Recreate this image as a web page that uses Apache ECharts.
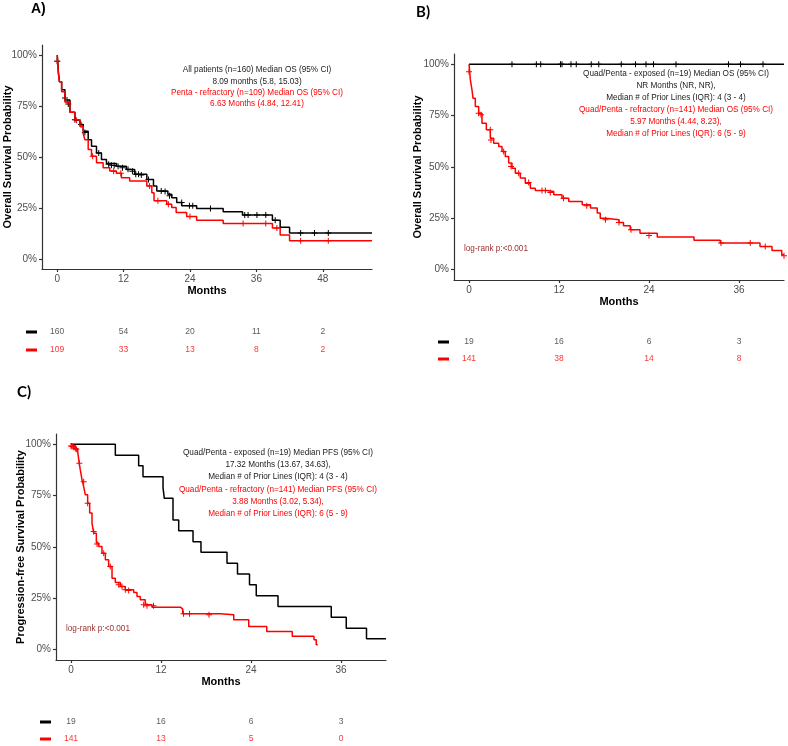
<!DOCTYPE html>
<html>
<head>
<meta charset="utf-8">
<script src="https://cdn.jsdelivr.net/npm/echarts@6/dist/echarts.min.js"></script>
<style>html,body{margin:0;padding:0;background:#fff;}#c{width:788px;height:746px;}</style>
</head>
<body>
<div id="c"></div>
<script>
// ---------- DATA ----------
// Panel A: overall survival, all patients vs penta-refractory
const aAllSteps = [[0,1],[0.1,0.97],[0.2,0.92],[0.4,0.87],[0.8,0.83],[1.4,0.78],[2.3,0.72],[3.2,0.683],[4.1,0.66],[4.7,0.626],[5.6,0.585],[6.2,0.553],[7.1,0.52],[8.0,0.488],[8.9,0.468],[10.7,0.455],[12.5,0.439],[14.0,0.415],[16.2,0.39],[17.4,0.358],[18.0,0.333],[20.0,0.317],[20.7,0.30],[21.6,0.277],[22.5,0.26],[25.2,0.247],[30.0,0.231],[33.5,0.215],[38.9,0.19],[40.3,0.155],[42.0,0.127],[56.9,0.127]];
const aPentaSteps = [[0,1],[0.1,0.96],[0.2,0.91],[0.4,0.87],[0.8,0.82],[1.4,0.77],[2.3,0.72],[3.2,0.683],[4.1,0.65],[4.7,0.615],[5.0,0.585],[5.6,0.537],[6.2,0.504],[7.1,0.472],[8.3,0.447],[9.5,0.431],[10.7,0.42],[11.6,0.398],[13.1,0.382],[16.2,0.358],[17.1,0.325],[17.5,0.285],[19.8,0.268],[20.7,0.252],[21.5,0.228],[23.4,0.208],[25.2,0.19],[30.0,0.174],[38.9,0.151],[40.3,0.117],[42.0,0.089],[56.9,0.089]];
const aAllCensor = [[0,0.97],[1.4,0.79],[2.0,0.76],[3.2,0.683],[4.3,0.66],[5.0,0.62],[7.5,0.52],[9.3,0.465],[9.8,0.46],[10.3,0.458],[11.0,0.455],[11.8,0.447],[12.8,0.44],[13.6,0.43],[14.2,0.415],[14.7,0.415],[15.2,0.412],[16.5,0.39],[18.8,0.333],[19.5,0.33],[20.3,0.31],[22.5,0.277],[23.9,0.26],[24.5,0.26],[27.7,0.247],[33.9,0.215],[34.5,0.215],[36.1,0.215],[37.7,0.215],[39.4,0.19],[44.0,0.127],[46.5,0.127],[49.0,0.127]];
const aPentaCensor = [[0,0.97],[1.9,0.77],[3.5,0.68],[6.4,0.504],[10.2,0.43],[11.5,0.42],[16.7,0.358],[18.2,0.285],[20.1,0.268],[24.0,0.208],[33.6,0.174],[37.7,0.174],[39.7,0.151],[44.0,0.089],[49.0,0.089]];
const aRiskTimes = [0,12,24,36,48];
const aRiskAll = [160,54,20,11,2];
const aRiskPenta = [109,33,13,8,2];

// Panel B: overall survival, quad/penta exposed vs refractory
const bExpSteps = [[0,1],[42,1]];
const bExpCensor = [[5.73,1],[8.98,1],[9.56,1],[12.2,1],[12.4,1],[13.6,1],[14.3,1],[16.3,1],[17.3,1],[20.3,1],[22.2,1],[23.6,1],[24.6,1],[27.6,1],[34.6,1],[36.2,1],[39.2,1]];
const bRefSteps = [[0,1],[0.09,0.965],[0.18,0.924],[0.4,0.875],[0.53,0.835],[0.84,0.794],[1.29,0.762],[1.73,0.713],[2.31,0.681],[2.84,0.64],[3.29,0.616],[3.96,0.60],[4.4,0.575],[4.84,0.551],[5.29,0.519],[5.73,0.494],[6.18,0.47],[6.84,0.446],[7.51,0.421],[8.18,0.397],[8.84,0.386],[10.4,0.381],[11.3,0.365],[12.4,0.348],[13.3,0.332],[15.1,0.316],[16.2,0.30],[17.1,0.276],[17.5,0.251],[18.2,0.243],[20.0,0.23],[20.6,0.214],[21.5,0.194],[22.8,0.178],[25.1,0.159],[30.0,0.143],[33.5,0.13],[38.8,0.113],[40.4,0.094],[41.7,0.073],[42,0.073]];
const bRefCensor = [[0,0.964],[1.29,0.762],[1.6,0.754],[2.84,0.681],[2.93,0.632],[4.62,0.575],[5.6,0.502],[6.62,0.47],[7.96,0.425],[9.73,0.386],[10.18,0.386],[10.84,0.376],[12.6,0.348],[15.7,0.311],[18.2,0.243],[20.0,0.23],[21.6,0.194],[24.0,0.167],[33.6,0.13],[37.5,0.13],[39.5,0.113],[42,0.068]];
const bRiskTimes = [0,12,24,36];
const bRiskExp = [19,16,6,3];
const bRiskRef = [141,38,14,8];

// Panel C: progression-free survival
const cExpSteps = [[0,1],[5.91,0.947],[9.02,0.895],[9.6,0.842],[12.27,0.789],[12.44,0.737],[13.6,0.632],[14.36,0.579],[16.27,0.526],[17.33,0.474],[20.8,0.421],[22.2,0.368],[23.8,0.316],[24.7,0.263],[27.6,0.211],[34.7,0.158],[36.7,0.105],[39.4,0.053],[42,0.053]];
const cRefSteps = [[0,1],[0.13,0.992],[0.58,0.98],[0.89,0.964],[1.07,0.916],[1.24,0.875],[1.47,0.827],[1.69,0.794],[1.91,0.754],[2.22,0.713],[2.49,0.665],[2.8,0.616],[3.02,0.567],[3.38,0.519],[3.69,0.502],[4.13,0.47],[4.58,0.438],[5.02,0.405],[5.47,0.348],[5.91,0.327],[6.58,0.308],[7.24,0.292],[8.36,0.279],[8.8,0.259],[9.24,0.243],[9.9,0.219],[10.8,0.207],[14.6,0.198],[14.9,0.175],[19.9,0.17],[21.7,0.146],[23.7,0.113],[26.1,0.089],[29.5,0.065],[32.4,0.049],[32.7,0.024],[32.9,0.024]];
const cRefCensor = [[0,0.992],[0.13,0.989],[0.36,0.985],[0.58,0.98],[0.71,0.976],[1.11,0.908],[1.69,0.818],[2.22,0.713],[3.02,0.575],[3.47,0.515],[4.36,0.47],[5.24,0.405],[6.36,0.316],[6.8,0.308],[7.24,0.292],[7.69,0.288],[9.69,0.219],[10.13,0.214],[11.0,0.214],[15.0,0.175],[15.8,0.175],[18.4,0.17]];
const cRiskTimes = [0,12,24,36];
const cRiskExp = [19,16,6,3];
const cRiskRef = [141,13,5,0];

const yTicks = [0,0.25,0.5,0.75,1];

// ---------- STYLE ----------
const FF = 'Liberation Sans, Arial, sans-serif';
const BLACK = '#000000', RED = '#ff0000', AXIS = '#333333', TICKTXT = '#4d4d4d', LOGRANK = '#9b3030';
const PLUS = 'path://M2.5,0H3.5V2.5H6V3.5H3.5V6H2.5V3.5H0V2.5H2.5Z';
const NOTE = '8.2px ';

const panels = [
  {grid:{left:42, top:45, width:330, height:224}, xmin:-2.75, xmax:56.9, xt:aRiskTimes, yname:'Overall Survival Probability', ynameGap:29,
   risk:{top:323, height:36}, riskTimes:aRiskTimes, riskK:aRiskAll, riskR:aRiskPenta,
   lines:[[aAllSteps,BLACK],[aPentaSteps,RED]], cens:[[aAllCensor,BLACK],[aPentaCensor,RED]]},
  {grid:{left:454, top:54, width:330, height:226}, xmin:-2.0, xmax:42.0, xt:bRiskTimes, yname:'Overall Survival Probability', ynameGap:31,
   risk:{top:333.5, height:34}, riskTimes:bRiskTimes, riskK:bRiskExp, riskR:bRiskRef,
   lines:[[bExpSteps,BLACK],[bRefSteps,RED]], cens:[[bExpCensor,BLACK],[bRefCensor,RED]]},
  {grid:{left:56, top:434, width:330, height:226}, xmin:-2.0, xmax:42.0, xt:cRiskTimes, yname:'Progression-free Survival Probability', ynameGap:30,
   risk:{top:713.5, height:34}, riskTimes:cRiskTimes, riskK:cRiskExp, riskR:cRiskRef,
   lines:[[cExpSteps,BLACK],[cRefSteps,RED]], cens:[[cRefCensor,RED]]}
];

const grids = [], xAxes = [], yAxes = [], series = [];
panels.forEach((p, i) => {
  const gi = grids.length;
  grids.push(Object.assign({outerBoundsMode:'none', containLabel:false}, p.grid));
  xAxes.push({type:'value', gridIndex:gi, min:p.xmin, max:p.xmax, name:'Months', nameLocation:'middle', nameGap:16,
    nameMoveOverlap:false,
    nameTextStyle:{fontFamily:FF, fontWeight:'bold', fontSize:11, color:'#000', verticalAlign:'top'},
    axisLine:{show:true, onZero:false, lineStyle:{color:AXIS, width:1.2}},
    axisTick:{show:true, length:3, customValues:p.xt, lineStyle:{color:AXIS, width:1.2}},
    axisLabel:{customValues:p.xt, margin:5, fontFamily:FF, fontSize:10, color:TICKTXT},
    splitLine:{show:false}});
  yAxes.push({type:'value', gridIndex:gi, min:-0.05, max:1.05, name:p.yname, nameLocation:'middle', nameGap:p.ynameGap, nameRotate:90,
    nameMoveOverlap:false,
    nameTextStyle:{fontFamily:FF, fontWeight:'bold', fontSize:11, color:'#000'},
    axisLine:{show:true, onZero:false, lineStyle:{color:AXIS, width:1.2}},
    axisTick:{show:true, length:3, customValues:yTicks, lineStyle:{color:AXIS, width:1.2}},
    axisLabel:{customValues:yTicks, margin:5, fontFamily:FF, fontSize:10, color:TICKTXT, formatter:v => Math.round(v*100)+'%'},
    splitLine:{show:false}});
  p.lines.forEach(([d,c]) => series.push({type:'line', xAxisIndex:gi, yAxisIndex:gi, data:d, step:'end', symbol:'none',
    lineStyle:{color:c, width:1.5}, silent:true, animation:false}));
  p.cens.forEach(([d,c]) => series.push({type:'scatter', xAxisIndex:gi, yAxisIndex:gi, data:d, symbol:PLUS, symbolSize:6,
    itemStyle:{color:c, opacity:1}, silent:true, animation:false}));

  // risk table grid
  const ri = grids.length;
  grids.push({outerBoundsMode:'none', containLabel:false, left:p.grid.left, width:p.grid.width, top:p.risk.top, height:p.risk.height});
  xAxes.push({type:'value', gridIndex:ri, min:p.xmin, max:p.xmax, show:false});
  yAxes.push({type:'category', gridIndex:ri, data:['k','r'], inverse:true,
    axisLine:{show:false}, axisTick:{show:false}, splitLine:{show:false},
    axisLabel:{margin:5, formatter:v => v==='k' ? '{k| }' : '{r| }',
      rich:{k:{width:11, height:3, backgroundColor:BLACK, fontSize:3, lineHeight:3},
            r:{width:11, height:3, backgroundColor:RED, fontSize:3, lineHeight:3}}}});
  const mk = (vals, row) => vals.map((v, j) => ({value:[p.riskTimes[j], row, v]}));
  [[p.riskK,'k','#333333'],[p.riskR,'r',RED]].forEach(([vals,row,col]) => series.push({type:'scatter', xAxisIndex:ri, yAxisIndex:ri,
    data:mk(vals,row), symbolSize:0, silent:true, animation:false, encode:{x:0, y:1},
    label:{show:true, position:'inside', formatter:q => String(q.value[2]), fontFamily:FF, fontSize:8.5, color:col}}));
});

// ---------- TEXT ANNOTATIONS ----------
const T = (x, y, text, color, extra) => Object.assign({type:'text', x:x, y:y,
  style:{text:text, fill:color, font:NOTE + FF, textAlign:'center', textVerticalAlign:'middle'}}, extra||{});
const graphics = [
  {type:'text', x:31, y:9, style:{text:'A)', fill:'#000', font:'bold 14px ' + FF, textVerticalAlign:'middle'}},
  {type:'text', x:416, y:12, style:{text:'B)', fill:'#000', font:'bold 15px Lato, ' + FF, textVerticalAlign:'middle'}},
  {type:'text', x:17, y:392, style:{text:'C)', fill:'#000', font:'bold 15px Lato, ' + FF, textVerticalAlign:'middle'}},
  T(257, 70, 'All patients (n=160) Median OS (95% CI)', '#222'),
  T(257, 81.5, '8.09 months (5.8, 15.03)', '#222'),
  T(257, 92.5, 'Penta - refractory (n=109) Median OS (95% CI)', RED),
  T(257, 104, '6.63 Months (4.84, 12.41)', RED),
  T(676, 74, 'Quad/Penta - exposed (n=19) Median OS (95% CI)', '#222'),
  T(676, 86, 'NR Months (NR, NR),', '#222'),
  T(676, 98, 'Median # of Prior Lines (IQR): 4 (3 - 4)', '#222'),
  T(676, 110, 'Quad/Penta - refractory (n=141) Median OS (95% CI)', RED),
  T(676, 122, '5.97 Months (4.44, 8.23),', RED),
  T(676, 134, 'Median # of Prior Lines (IQR): 6 (5 - 9)', RED),
  T(278, 453, 'Quad/Penta - exposed (n=19) Median PFS (95% CI)', '#222'),
  T(278, 465, '17.32 Months (13.67, 34.63),', '#222'),
  T(278, 477, 'Median # of Prior Lines (IQR): 4 (3 - 4)', '#222'),
  T(278, 490, 'Quad/Penta - refractory (n=141) Median PFS (95% CI)', RED),
  T(278, 502, '3.88 Months (3.02, 5.34),', RED),
  T(278, 514, 'Median # of Prior Lines (IQR): 6 (5 - 9)', RED),
  {type:'text', x:464, y:249, style:{text:'log-rank p:<0.001', fill:LOGRANK, font:NOTE + FF, textVerticalAlign:'middle'}},
  {type:'text', x:66, y:629, style:{text:'log-rank p:<0.001', fill:LOGRANK, font:NOTE + FF, textVerticalAlign:'middle'}}
];

const chart = echarts.init(document.getElementById('c'), null, {renderer:'canvas'});
chart.setOption({
  backgroundColor:'#ffffff', animation:false,
  grid:grids, xAxis:xAxes, yAxis:yAxes, series:series, graphic:graphics
});
</script>
</body>
</html>
